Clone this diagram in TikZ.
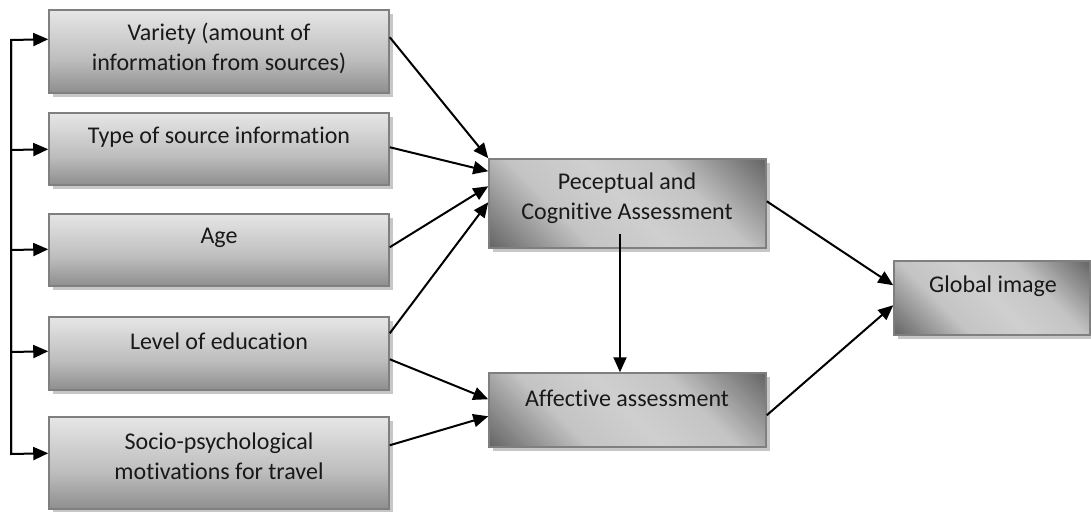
\documentclass[tikz,border=0pt]{standalone}
\usepackage{fontspec}
\setmainfont{Carlito}[Ligatures=NoCommon]
\usetikzlibrary{arrows.meta,shadows}
\definecolor{lb}{HTML}{8E8E8E}
\definecolor{lm}{HTML}{BDBDBD}
\definecolor{lt}{HTML}{E6E6E6}
\definecolor{md}{HTML}{626262}
\definecolor{ml}{HTML}{C4C4C4}
\definecolor{mc}{HTML}{CFCFCF}
\definecolor{bord}{HTML}{7F7F7F}
\pgfdeclareverticalshading{lgrad}{100bp}{color(0bp)=(lb); color(25bp)=(lb); color(45bp)=(lm); color(75bp)=(lt); color(100bp)=(lt)}
\pgfdeclareverticalshading{metal}{100bp}{color(0bp)=(md); color(14bp)=(md); color(35bp)=(ml); color(50bp)=(mc); color(65bp)=(ml); color(86bp)=(md); color(100bp)=(md)}
\tikzset{
  boxbase/.style={draw=bord, line width=1.5pt, inner sep=0pt,
    drop shadow={shadow xshift=4pt, shadow yshift=-4pt, fill=black!22, opacity=1}},
  lbox/.style={boxbase, shading=lgrad, minimum width=340pt},
  mbox/.style={boxbase, shading=metal, shading angle=-45},
  lbl/.style={font=\fontsize{24}{30}\selectfont, align=center, inner sep=0pt, text=black!90},
  arr/.style={line width=2pt, -{Triangle[length=15pt,width=13pt]}}
}
\begin{document}
\begin{tikzpicture}[x=1pt,y=-1pt]
\useasboundingbox (0,0) rectangle (1091,511);
% left boxes
\node[lbox, minimum height=83pt] (b1) at (219,51.5) {};
\node[lbox, minimum height=72pt] (b2) at (219,149) {};
\node[lbox, minimum height=72pt] (b3) at (219,250) {};
\node[lbox, minimum height=73pt] (b4) at (219,353.5) {};
\node[lbox, minimum height=92pt] (b5) at (219,463) {};
% middle and right boxes
\node[mbox, minimum width=277pt, minimum height=89pt] (p) at (627.5,203.5) {};
\node[mbox, minimum width=277pt, minimum height=74pt] (a) at (627.5,410) {};
\node[mbox, minimum width=196pt, minimum height=74pt] (g) at (992,298) {};
% labels
\node[lbl] (b1t) at (219,48) {Variety (amount of\\information from sources)};
\node[lbl] (b2t) at (219,137) {Type of source information};
\node[lbl] (b3t) at (219,238) {Age};
\node[lbl] (b4t) at (219,341) {Level of education};
\node[lbl] (b5t) at (219,456) {Socio-psychological\\motivations for travel};
\node[lbl] (pt) at (627,198) {Peceptual and\\Cognitive Assessment};
\node[lbl] (at) at (627,398) {Affective assessment};
\node[lbl] (gt) at (993,286) {Global image};
% trunk on the left
\coordinate (tr1) at (11,40);
\coordinate (tr5) at (11,454);
\draw[arr] (tr5) -- (tr1) -- ([yshift=-30pt]b1.north west);
\draw[arr] (tr1) -- (tr5) -- ([yshift=-37pt]b5.north west);
\draw[arr] (tr1 |- 0,150) -- ([yshift=-37pt]b2.north west);
\draw[arr] (tr1 |- 0,250) -- ([yshift=-36pt]b3.north west);
\draw[arr] (tr1 |- 0,352) -- ([yshift=-35pt]b4.north west);
% into perceptual
\draw[arr] ([yshift=-28pt]b1.north east) -- (p.north west);
\draw[arr] ([yshift=-35pt]b2.north east) -- ([yshift=-13pt]p.north west);
\draw[arr] ([yshift=-34pt]b3.north east) -- ([yshift=-28pt]p.north west);
\draw[arr] ([yshift=-17pt]b4.north east) -- ([yshift=-44pt]p.north west);
% into affective
\draw[arr] ([yshift=-43pt]b4.north east) -- ([yshift=-27pt]a.north west);
\draw[arr] ([yshift=-29pt]b5.north east) -- ([yshift=-44pt]a.north west);
% perceptual to affective
\draw[arr] ([xshift=-7.5pt,yshift=15pt]p.south) -- ([xshift=-7.5pt]a.north);
% into global
\draw[arr] ([yshift=-43pt]p.north east) -- ([yshift=-25pt]g.north west);
\draw[arr] ([yshift=-43pt]a.north east) -- ([yshift=-45pt]g.north west);
\end{tikzpicture}
\end{document}
